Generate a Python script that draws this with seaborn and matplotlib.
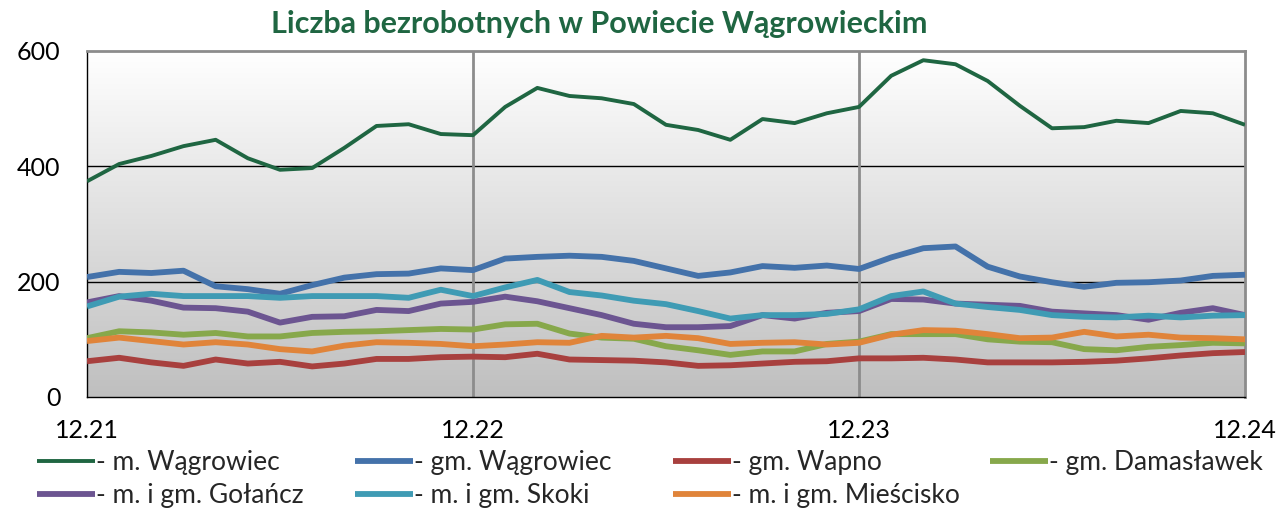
import numpy as np
import pandas as pd
import matplotlib.pyplot as plt
import seaborn as sns
from matplotlib.colors import LinearSegmentedColormap

# Monthly values, 12.2021 .. 12.2024 (37 months)
months = list(range(37))
tick_pos = [0, 12, 24, 36]
tick_labels = ['12.21', '12.22', '12.23', '12.24']

m_wagrowiec = [374, 404, 418, 435, 446, 414, 394, 397, 432, 470, 473, 456, 454,
               503, 536, 522, 518, 508, 472, 463, 446, 482, 475, 492, 503,
               557, 584, 577, 548, 505, 466, 468, 479, 475, 496, 492, 472]
gm_wagrowiec = [208, 217, 215, 219, 192, 187, 179, 194, 207, 213, 214, 223, 220,
                240, 243, 245, 243, 236, 223, 210, 216, 227, 224, 228, 222,
                242, 258, 261, 226, 209, 199, 191, 198, 199, 202, 210, 212]
gm_wapno = [62, 68, 60, 54, 65, 58, 61, 53, 58, 66, 66, 69, 70,
            69, 75, 65, 64, 63, 60, 54, 55, 58, 61, 62, 67,
            67, 68, 65, 60, 60, 60, 61, 63, 67, 72, 76, 78]
gm_damaslawek = [102, 114, 112, 108, 111, 105, 105, 111, 113, 114, 116, 118, 117,
                 126, 127, 110, 103, 101, 88, 81, 73, 79, 79, 92, 96,
                 109, 109, 109, 100, 96, 95, 83, 81, 87, 90, 94, 93]
golancz = [164, 175, 167, 155, 154, 148, 129, 139, 140, 151, 149, 162, 165,
           174, 166, 154, 142, 127, 121, 121, 123, 142, 136, 146, 149,
           170, 169, 162, 160, 158, 148, 145, 142, 134, 146, 154, 142]
skoki = [157, 174, 179, 175, 175, 175, 172, 175, 175, 175, 172, 186, 175,
         190, 203, 182, 176, 167, 161, 149, 136, 142, 142, 144, 152,
         175, 183, 162, 156, 151, 142, 139, 138, 141, 138, 141, 142]
miescisko = [97, 103, 97, 91, 95, 91, 83, 79, 89, 95, 94, 92, 88,
             91, 95, 94, 106, 103, 106, 102, 92, 94, 95, 91, 94,
             108, 116, 115, 109, 102, 103, 113, 105, 108, 103, 102, 100]

series = {
    '- m. Wągrowiec': m_wagrowiec,
    '- gm. Wągrowiec': gm_wagrowiec,
    '- gm. Wapno': gm_wapno,
    '- gm. Damasławek': gm_damaslawek,
    '- m. i gm. Gołańcz': golancz,
    '- m. i gm. Skoki': skoki,
    '- m. i gm. Mieścisko': miescisko,
}
colors = ['#1f6642', '#4472aa', '#a8403e', '#87a84b', '#6c5591', '#3f9bb4', '#e0843a']

df = pd.concat([pd.DataFrame({'month': months, 'value': v, 'area': k})
                for k, v in series.items()], ignore_index=True)

sns.set_style('white')
plt.rcParams['font.family'] = ['Lato', 'DejaVu Sans']

fig = plt.figure(figsize=(12.81, 5.11), dpi=100)
ax = fig.add_axes([0.0679, 0.2231, 0.9040, 0.6771])

# gradient background (white at top -> grey at bottom)
cmap = LinearSegmentedColormap.from_list('bg', ['#bfbfbf', '#ffffff'])
ax.imshow(np.linspace(0, 1, 256).reshape(-1, 1), extent=[0, 36, 0, 600],
          origin='lower', aspect='auto', cmap=cmap, zorder=0)

sns.lineplot(data=df, x='month', y='value', hue='area', palette=colors,
             ax=ax, legend=True, zorder=3)
for i, line in enumerate(ax.get_lines()):
    line.set_linewidth(2.8 if i == 0 else 4.2)
    line.set_solid_capstyle('butt')

ax.set_xlim(0, 36)
ax.set_ylim(0, 600)
ax.set_xticks(tick_pos)
ax.set_xticklabels(tick_labels)
ax.set_yticks([0, 200, 400, 600])
ax.set_xlabel('')
ax.set_ylabel('')

for y in [200, 400]:
    ax.axhline(y, color='black', lw=1.0, zorder=1)
for x in [12, 24]:
    ax.axvline(x, color='#8c8c8c', lw=2.0, zorder=1)

for s in ['top', 'right']:
    ax.spines[s].set_color('#8c8c8c')
    ax.spines[s].set_linewidth(2.0)
for s in ['left', 'bottom']:
    ax.spines[s].set_color('black')
    ax.spines[s].set_linewidth(1.0)

ax.tick_params(axis='both', direction='out', length=7, width=1, color='black',
               labelsize=18, labelcolor='black')
ax.tick_params(axis='y', pad=12)
ax.tick_params(axis='x', pad=9)

fig.text(599 / 1281, 1 - 24 / 511, 'Liczba bezrobotnych w Powiecie Wągrowieckim',
         ha='center', va='center', fontsize=22, fontweight='bold', color='#1f6642')

# legend: four evenly spaced columns, filled row by row
handles, labels = ax.get_legend_handles_labels()
ax.get_legend().remove()
col_x = [37, 355, 673, 990]
for c, xpx in enumerate(col_x):
    idx = [i for i in (c, c + 4) if i < len(handles)]
    leg = fig.legend([handles[i] for i in idx], [labels[i] for i in idx],
                     loc='upper left', bbox_to_anchor=(xpx / 1281, 1 - 450 / 511),
                     frameon=False, fontsize=19, handlelength=2.2,
                     handletextpad=0.05, labelspacing=0.3, borderpad=0,
                     borderaxespad=0)
    for i, h in zip(idx, leg.legend_handles):
        h.set_linewidth(2.8 if i == 0 else 4.2)

fig.savefig('out.png', dpi=100)
